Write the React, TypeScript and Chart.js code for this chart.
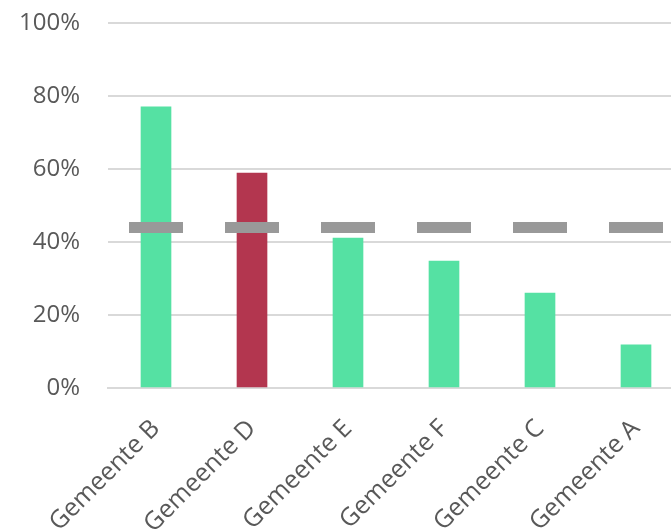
import React, { useEffect, useRef } from "react";
import { Chart, registerables } from "chart.js";

Chart.register(...registerables);

const categories = ["Gemeente B", "Gemeente D", "Gemeente E", "Gemeente F", "Gemeente C", "Gemeente A"];
const values = [77, 58.9, 41.1, 34.8, 26, 11.8];
const barColors = ["#55E1A3", "#B3364F", "#55E1A3", "#55E1A3", "#55E1A3", "#55E1A3"];
const average = [44, 44, 44, 44, 44, 44];
const yTicks = [0, 20, 40, 60, 80, 100];

export default function App() {
  const ref = useRef<HTMLCanvasElement>(null);
  useEffect(() => {
    document.body.style.margin = "0";
    document.body.style.overflow = "hidden";
    const chart = new Chart(ref.current!, {
      type: "bar",
      data: {
        labels: categories,
        datasets: [
          {
            type: "line",
            data: average,
            showLine: false,
            pointStyle: "line",
            pointRadius: 27,
            pointHoverRadius: 27,
            pointBorderWidth: 11,
            pointBorderColor: "#999999",
            borderColor: "#999999",
            order: 0,
          } as any,
          {
            type: "bar",
            data: values,
            backgroundColor: barColors,
            barThickness: 30,
            order: 1,
          },
        ],
      },
      options: {
        animation: false,
        responsive: false,
        maintainAspectRatio: false,
        layout: { padding: { top: 8, right: 16, left: 0, bottom: 0 } },
        plugins: { legend: { display: false }, tooltip: { enabled: false } },
        scales: {
          x: {
            grid: { display: false, drawTicks: false },
            border: { display: true, color: "#D9D9D9", width: 2 },
            ticks: {
              color: "#595959",
              font: { family: "Open Sans", size: 25 },
              maxRotation: 45,
              minRotation: 45,
              padding: 26,
            },
            afterFit: (s: any) => {
              s.height = 141;
              s.paddingLeft = 0;
              s.paddingRight = 0;
              s.paddingTop = 0;
              s.paddingBottom = 0;
            },
          },
          y: {
            min: 0,
            max: 100,
            afterBuildTicks: (s: any) => {
              s.ticks = yTicks.map((v) => ({ value: v }));
            },
            grid: { color: "#D9D9D9", lineWidth: 2, drawTicks: false },
            border: { display: false },
            ticks: {
              color: "#595959",
              font: { family: "Open Sans", size: 24 },
              padding: 28,
              callback: (v: any) => v + "%",
            },
            afterFit: (s: any) => {
              s.width = 108;
              s.paddingLeft = 0;
              s.paddingRight = 0;
              s.paddingTop = 0;
              s.paddingBottom = 0;
            },
          },
        },
      },
    });
    return () => chart.destroy();
  }, []);
  return (
    <div style={{ width: 722, height: 529, overflow: "hidden" }}>
      <canvas ref={ref} width={722} height={544} style={{ display: "block", marginTop: -15 }} />
    </div>
  );
}
